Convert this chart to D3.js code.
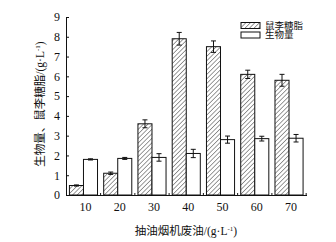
<!DOCTYPE html>
<html>
<head>
<meta charset="utf-8">
<script src="https://cdnjs.cloudflare.com/ajax/libs/d3/7.8.5/d3.min.js"></script>
<style>
  body { margin: 0; background: #fff; }
  svg text { font-family: "Liberation Serif", "Noto Sans CJK SC", serif; fill: #111; }
</style>
</head>
<body>
<div id="chart"></div>
<script>
var categories     = ["10", "20", "30", "40", "50", "60", "70"];
var series_names   = ["鼠李糖脂", "生物量"];
var rhamnolipid    = [0.48, 1.1, 3.6, 7.9, 7.5, 6.1, 5.8];
var rhamnolipid_sd = [0.03, 0.06, 0.2, 0.32, 0.29, 0.21, 0.3];
var biomass        = [1.8, 1.85, 1.9, 2.1, 2.8, 2.85, 2.87];
var biomass_sd     = [0.03, 0.05, 0.19, 0.21, 0.18, 0.12, 0.19];
var y_ticks        = [0, 1, 2, 3, 4, 5, 6, 7, 8, 9];

var width_chart  = 336;
var height_chart = 242;

var svg_chart = d3.select("#chart").append("svg")
  .attr("width", width_chart)
  .attr("height", height_chart);

// hatch pattern for the first series
var defs = svg_chart.append("defs");
var pattern = defs.append("pattern")
  .attr("id", "hatch")
  .attr("patternUnits", "userSpaceOnUse")
  .attr("width", 3.2)
  .attr("height", 3.2)
  .attr("patternTransform", "rotate(45)");
pattern.append("rect").attr("width", 3.2).attr("height", 3.2).attr("fill", "#fff");
pattern.append("line")
  .attr("x1", 0).attr("y1", 0).attr("x2", 0).attr("y2", 3.2)
  .attr("stroke", "#222").attr("stroke-width", 0.9);

var x_chart = d3.scaleBand()
  .domain(categories)
  .range([66, 306.5])
  .paddingInner(0.18)
  .paddingOuter(0.1);

var x_sub = d3.scaleBand()
  .domain(series_names)
  .range([0, x_chart.bandwidth()]);

var y_chart = d3.scaleLinear()
  .domain([0, 9])
  .range([195, 17]);

// y axis
var axis_y = svg_chart.append("g")
  .attr("transform", "translate(66,0)")
  .call(d3.axisLeft(y_chart).tickValues(y_ticks).tickSizeInner(-3).tickSizeOuter(0).tickPadding(6));
axis_y.select(".domain").attr("stroke", "#111");
axis_y.selectAll(".tick line").attr("stroke", "#111");
axis_y.selectAll(".tick text").attr("font-size", 12);

// x axis
var axis_x = svg_chart.append("g")
  .attr("transform", "translate(0,195)")
  .call(d3.axisBottom(x_chart).tickSize(0).tickPadding(7));
axis_x.select(".domain").attr("d", "M66,0.5H307").attr("stroke", "#111");
axis_x.selectAll(".tick text").attr("font-size", 12).attr("dx", 2);

// small ticks between groups
svg_chart.append("g").selectAll("line")
  .data(categories)
  .join("line")
  .attr("x1", function (d) { return x_chart(d) + x_chart.bandwidth() + x_chart.step()*x_chart.paddingInner()/2; })
  .attr("x2", function (d) { return x_chart(d) + x_chart.bandwidth() + x_chart.step()*x_chart.paddingInner()/2; })
  .attr("y1", 195)
  .attr("y2", 193)
  .attr("stroke", "#111");

var series_data = [
  {name:series_names[0], values:rhamnolipid, sd:rhamnolipid_sd, fill:"url(#hatch)"},
  {name:series_names[1], values:biomass, sd:biomass_sd, fill:"#fff"}
];

series_data.forEach(function (s) {
  var g = svg_chart.append("g");
  g.selectAll("rect")
    .data(s.values)
    .join("rect")
    .attr("x", function (d, i) { return x_chart(categories[i]) + x_sub(s.name); })
    .attr("y", function (d) { return y_chart(d); })
    .attr("width", x_sub.bandwidth())
    .attr("height", function (d) { return y_chart(0) - y_chart(d); })
    .attr("fill", s.fill)
    .attr("stroke", "#111")
    .attr("stroke-width", 1);

  // error bars
  var eb = g.selectAll("g.err")
    .data(s.values)
    .join("g")
    .attr("class", "err")
    .attr("transform", function (d, i) {
      return "translate(" + (x_chart(categories[i]) + x_sub(s.name) + x_sub.bandwidth()/2) + ",0)";
    });
  eb.append("line")
    .attr("y1", function (d, i) { return y_chart(d + s.sd[i]); })
    .attr("y2", function (d, i) { return y_chart(d - s.sd[i]); })
    .attr("stroke", "#111");
  eb.append("line")
    .attr("x1", -2.5).attr("x2", 2.5)
    .attr("y1", function (d, i) { return y_chart(d + s.sd[i]); })
    .attr("y2", function (d, i) { return y_chart(d + s.sd[i]); })
    .attr("stroke", "#111");
  eb.append("line")
    .attr("x1", -2.5).attr("x2", 2.5)
    .attr("y1", function (d, i) { return y_chart(d - s.sd[i]); })
    .attr("y2", function (d, i) { return y_chart(d - s.sd[i]); })
    .attr("stroke", "#111");
});

// legend
var legend = svg_chart.append("g").selectAll("g")
  .data(series_data)
  .join("g")
  .attr("transform", function (d, i) { return "translate(241," + (22.5 + i*9.5) + ")"; });
legend.append("rect")
  .attr("width", 19).attr("height", 6)
  .attr("fill", function (d) { return d.fill; })
  .attr("stroke", "#111");
legend.append("text")
  .attr("x", 24).attr("y", 3)
  .attr("dy", "0.35em")
  .attr("font-size", 9.5)
  .text(function (d) { return d.name; });

// axis titles
var title_y = svg_chart.append("text")
  .attr("transform", "translate(44,104) rotate(-90)")
  .attr("text-anchor", "middle")
  .attr("font-size", 11.5);
title_y.append("tspan").text("生物量、鼠李糖脂/(g·L");
title_y.append("tspan").attr("dy", -4).attr("font-size", 7).text("-1");
title_y.append("tspan").attr("dy", 4).text(")");

var title_x = svg_chart.append("text")
  .attr("x", 186).attr("y", 235)
  .attr("text-anchor", "middle")
  .attr("font-size", 11.5);
title_x.append("tspan").text("抽油烟机废油/(g·L");
title_x.append("tspan").attr("dy", -4).attr("font-size", 7).text("-1");
title_x.append("tspan").attr("dy", 4).text(")");
</script>
</body>
</html>
